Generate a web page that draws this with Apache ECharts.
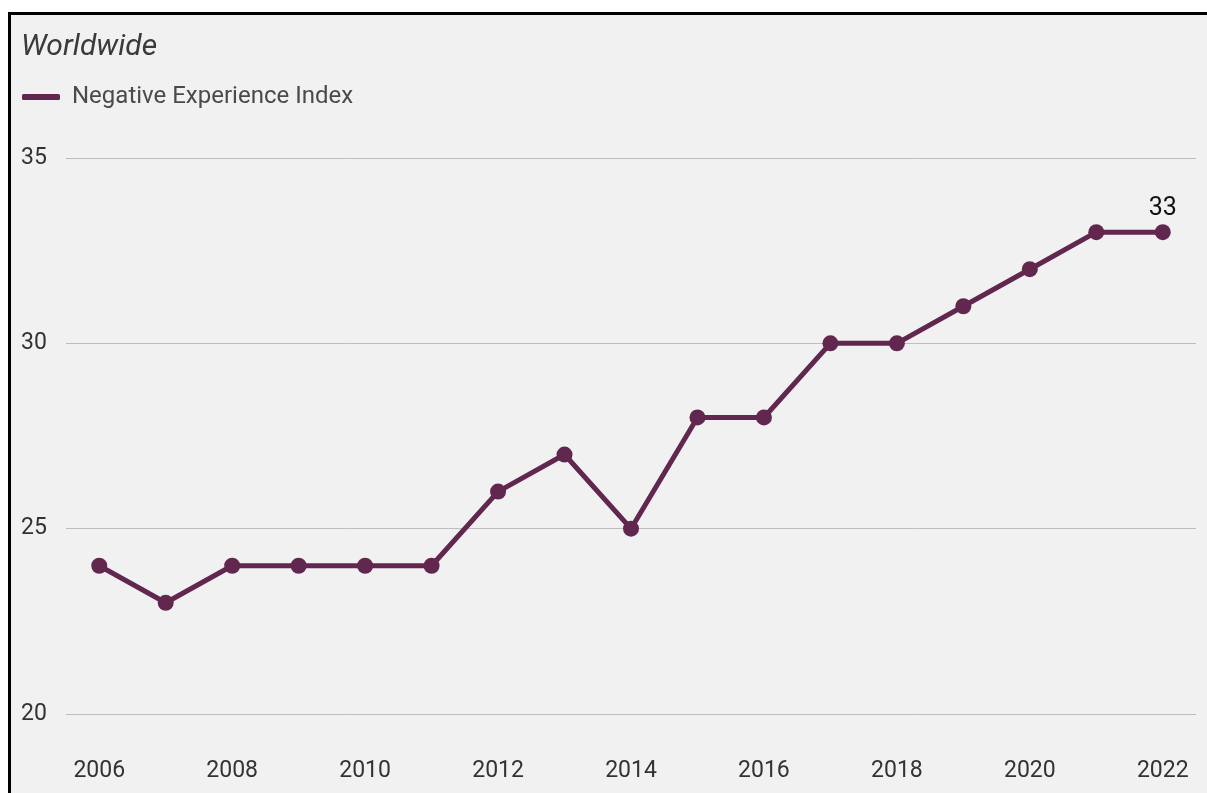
<!DOCTYPE html>
<html>
<head>
<meta charset="utf-8">
<script src="https://cdn.jsdelivr.net/npm/echarts@6/dist/echarts.min.js"></script>
<style>
  html, body { margin: 0; padding: 0; background: #ffffff; }
  #frame {
    position: absolute; left: 8px; top: 12px; width: 1199px; height: 781px;
    box-sizing: border-box; border-top: 3px solid #000; border-left: 3px solid #000;
    background: #f1f1f1;
  }
  #chart { position: absolute; left: 0; top: 0; width: 1207px; height: 793px; }
</style>
</head>
<body>
<div id="frame"></div>
<div id="chart"></div>
<script>
const years = ['2006','2007','2008','2009','2010','2011','2012','2013','2014','2015','2016','2017','2018','2019','2020','2021','2022'];
const negativeExperience = [24, 23, 24, 24, 24, 24, 26, 27, 25, 28, 28, 30, 30, 31, 32, 33, 33];
const seriesName = 'Negative Experience Index';
const titleText = 'Worldwide';

const lineColor = '#61274f';
const font = 'Roboto, "Liberation Sans", sans-serif';

// only the latest value carries a label
const seriesData = negativeExperience.map((v, i) => i === negativeExperience.length - 1
  ? { value: v, label: { show: true, position: 'top', distance: 3, color: '#111', fontSize: 25, fontFamily: font } }
  : v);

const chart = echarts.init(document.getElementById('chart'), null, { renderer: 'canvas' });
chart.setOption({
  backgroundColor: 'transparent',
  animation: false,
  title: {
    text: titleText, left: 16, top: 27,
    textStyle: { fontFamily: font, fontStyle: 'italic', fontWeight: 'normal', fontSize: 30, color: '#3a3a3a' }
  },
  legend: {
    left: 17, top: 80, itemWidth: 38, itemHeight: 6, icon: 'roundRect', itemGap: 20,
    textStyle: { fontFamily: font, fontSize: 24, color: '#4a4a4a', padding: [0, 0, 0, 7] },
    data: [{ name: seriesName, itemStyle: { color: lineColor } }]
  },
  grid: { left: 66, right: 11, top: 158, bottom: 79, containLabel: false },
  xAxis: {
    type: 'category', data: years, boundaryGap: true,
    axisLine: { show: false }, axisTick: { show: false },
    axisLabel: { interval: 1, margin: 46, fontFamily: font, fontSize: 23, color: '#333' }
  },
  yAxis: {
    type: 'value', min: 20, max: 35, interval: 5,
    axisLine: { show: false }, axisTick: { show: false },
    axisLabel: { align: 'left', margin: 45, fontFamily: font, fontSize: 23, color: '#333' },
    splitLine: { lineStyle: { color: '#bdbdbd', width: 1 } }
  },
  series: [{
    name: seriesName, type: 'line', data: seriesData,
    symbol: 'circle', symbolSize: 16,
    lineStyle: { color: lineColor, width: 5 },
    itemStyle: { color: lineColor }
  }]
});
</script>
</body>
</html>
